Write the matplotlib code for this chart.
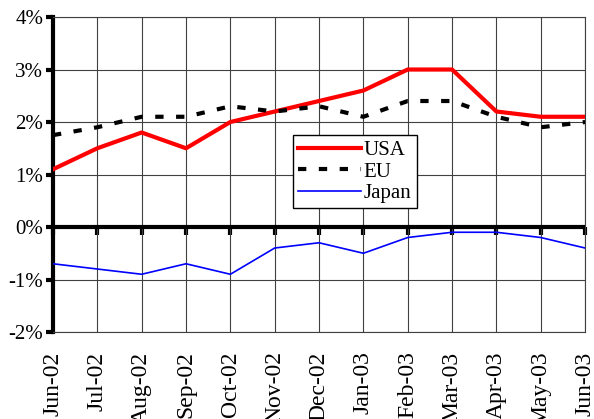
import matplotlib
matplotlib.use("Agg")
import matplotlib.pyplot as plt
from matplotlib.ticker import FuncFormatter

# ============================================================
# DATA (inflation, % year on year)
# ============================================================

months = ["Jun-02", "Jul-02", "Aug-02", "Sep-02", "Oct-02", "Nov-02", "Dec-02",
          "Jan-03", "Feb-03", "Mar-03", "Apr-03", "May-03", "Jun-03"]

usa = [1.1, 1.5, 1.8, 1.5, 2.0, 2.2, 2.4, 2.6, 3.0, 3.0, 2.2, 2.1, 2.1]
eu = [1.75, 1.9, 2.1, 2.1, 2.3, 2.2, 2.3, 2.1, 2.4, 2.4, 2.1, 1.9, 2.0]
japan = [-0.7, -0.8, -0.9, -0.7, -0.9, -0.4, -0.3, -0.5, -0.2, -0.1, -0.1, -0.2, -0.4]

y_ticks = [-2, -1, 0, 1, 2, 3, 4]

# ============================================================
# FIGURE
# ============================================================

plt.rcParams["font.family"] = ["Liberation Serif", "DejaVu Serif"]

fig = plt.figure(figsize=(5.94, 4.19), dpi=100)
ax = fig.add_axes([0.0892, 0.2076, 0.8958, 0.7518])

x = list(range(len(months)))

ax.plot(x, usa, color="#ff0000", linewidth=3.0, label="USA", zorder=4)
ax.plot(x, eu, color="black", linewidth=3.0, linestyle=(0, (2.0, 3.0)),
        label="EU", zorder=4)
ax.plot(x, japan, color="#0000ff", linewidth=1.2, label="Japan", zorder=4)

# zero line with category ticks
ax.axhline(0, color="black", linewidth=3.0, zorder=3)
sec = ax.secondary_xaxis(1 / 3)
sec.set_xticks(x)
sec.tick_params(axis="x", direction="out", length=6, width=3,
                labelbottom=False, color="black")
sec.spines["bottom"].set_visible(False)

ax.set_xlim(0, len(months) - 1)
ax.set_ylim(-2, 4)

ax.set_xticks(x)
ax.set_xticklabels(months, rotation=90, fontsize=17)
ax.tick_params(axis="x", length=0, pad=14)

ax.set_yticks(y_ticks)
ax.yaxis.set_major_formatter(FuncFormatter(lambda v, p: f"{int(v)}%"))
ax.tick_params(axis="y", direction="out", length=5, width=3, labelsize=15, pad=2)

ax.grid(True, color="#404040", linewidth=0.8)
ax.set_axisbelow(True)

for side in ["top", "right", "bottom"]:
    ax.spines[side].set_color("#404040")
    ax.spines[side].set_linewidth(0.8)
ax.spines["left"].set_linewidth(3.0)

ax.legend(loc="upper left", bbox_to_anchor=(0.451, 0.625), fontsize=15,
          frameon=True, fancybox=False, edgecolor="black", framealpha=1,
          borderpad=0.25, labelspacing=0.1, handlelength=3.0,
          handletextpad=0.15, borderaxespad=0)

fig.savefig("out.png", dpi=100)
